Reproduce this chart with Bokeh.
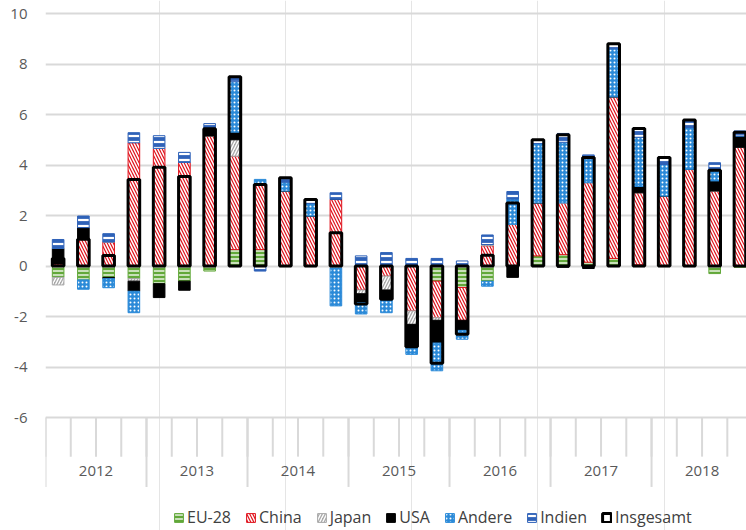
import numpy as np
from bokeh.plotting import figure
from bokeh.models import ColumnDataSource, FixedTicker, Legend, LegendItem, Range1d
from bokeh.embed import file_html
from bokeh.resources import INLINE
from bokeh.core.properties import value

# ---- data (percentage points, quarterly 2012Q1 .. 2018Q4) ----
years = ["2012", "2013", "2014", "2015", "2016", "2017", "2018"]
quarters = ["Q1", "Q2", "Q3", "Q4"]

eu28 = [-0.45, -0.55, -0.45, -0.50, -0.70, -0.60, -0.20, 0.65,
        0.65, 0.00, 0.00, 0.00, 0.00, 0.00, 0.00, -0.60,
        -0.85, -0.60, 0.00, 0.40, 0.45, 0.15, 0.30, 0.05,
        0.00, 0.00, -0.30, -0.05]
china = [0.08, 1.07, 0.95, 4.88, 4.66, 4.10, 5.15, 3.70,
         2.58, 2.97, 1.98, 2.64, -0.95, -0.40, -1.78, -1.45,
         -1.30, 0.80, 1.65, 2.10, 2.05, 3.15, 6.40, 2.85,
         2.77, 3.83, 2.97, 4.70]
japan = [-0.30, 0.00, 0.00, -0.10, 0.00, 0.00, 0.00, 0.65,
         0.00, 0.00, 0.00, -0.08, -0.15, -0.55, -0.53, -0.10,
         0.00, 0.05, 0.00, 0.00, 0.00, 0.00, 0.00, 0.00,
         0.00, 0.00, 0.00, 0.00]
usa = [0.62, 0.45, -0.05, -0.40, -0.55, -0.36, 0.33, 0.30,
       0.00, 0.00, 0.00, 0.00, -0.35, -0.37, -0.90, -0.90,
       -0.40, 0.00, -0.45, 0.00, -0.05, -0.10, 0.00, 0.25,
       0.00, 0.00, 0.40, 0.45]
andere = [0.00, -0.37, -0.36, -0.85, 0.00, 0.00, 0.00, 2.00,
          0.20, 0.35, 0.50, -1.50, -0.45, -0.53, -0.29, -1.10,
          -0.35, -0.20, 1.00, 2.35, 2.40, 0.95, 1.90, 1.95,
          1.25, 1.65, 0.40, 0.00]
indien = [0.35, 0.46, 0.33, 0.40, 0.50, 0.40, 0.16, 0.20,
          -0.20, 0.18, 0.15, 0.26, 0.40, 0.53, 0.30, 0.30,
          0.20, 0.38, 0.30, 0.15, 0.35, 0.15, 0.20, 0.35,
          0.28, 0.30, 0.32, 0.20]
insgesamt = [0.30, 1.06, 0.42, 3.43, 3.91, 3.54, 5.44, 7.50,
             3.23, 3.50, 2.63, 1.32, -1.50, -1.32, -3.20, -3.85,
             -2.70, 0.43, 2.50, 5.00, 5.20, 4.30, 8.80, 5.45,
             4.30, 5.78, 3.79, 5.30]

series_names = ["EU-28", "China", "Japan", "USA", "Andere", "Indien"]
series_values = [eu28, china, japan, usa, andere, indien]

# ---- styles ----
styles = {
    "EU-28":  dict(fill_color="#62a83a", line_color="#62a83a", hatch_pattern="-", hatch_scale=4, hatch_weight=1.3),
    "China":  dict(fill_color="#e0141e", line_color="#e0141e", hatch_pattern="\\", hatch_scale=6, hatch_weight=1.5),
    "Japan":  dict(fill_color="#a9a9a9", line_color="#a9a9a9", hatch_pattern="/", hatch_scale=6, hatch_weight=1.4),
    "USA":    dict(fill_color="#000000", line_color="#000000", hatch_pattern=None, hatch_scale=6, hatch_weight=1),
    "Andere": dict(fill_color="#2b8ad8", line_color="#2b8ad8", hatch_pattern=".", hatch_scale=4, hatch_weight=1.2),
    "Indien": dict(fill_color="#2f62b8", line_color="#2f62b8", hatch_pattern="-", hatch_scale=6, hatch_weight=2.2),
}

n = len(insgesamt)
x = np.arange(1, n + 1)

FONT = "Open Sans"
GRID = "#d9d9d9"

p = figure(width=746, height=530, x_range=Range1d(0.5, 28.26), y_range=Range1d(-10.475, 10.515),
           output_backend="svg", toolbar_location=None, x_axis_location=None,
           min_border_left=45, min_border_right=0, min_border_top=0, min_border_bottom=0)
p.outline_line_color = None
p.background_fill_color = "white"

yticks = list(range(-6, 11, 2))
p.yaxis.ticker = FixedTicker(ticks=yticks)
p.yaxis.major_label_overrides = {t: str(t) for t in yticks}
p.yaxis.axis_line_color = None
p.yaxis.major_tick_line_color = None
p.yaxis.major_tick_out = 0
p.yaxis.major_tick_in = 0
p.yaxis.minor_tick_line_color = None
p.yaxis.major_label_standoff = 18
p.yaxis.major_label_text_font = FONT
p.yaxis.major_label_text_font_size = "15px"
p.yaxis.major_label_text_color = "#595959"
p.ygrid.ticker = FixedTicker(ticks=yticks)
p.ygrid.grid_line_color = GRID
p.ygrid.grid_line_width = 2

# ---- category axis drawn at y = -6 ----
ymin = min(yticks)
bounds = np.arange(n + 1) + 0.5
p.segment(x0=bounds, y0=[ymin] * len(bounds), x1=bounds, y1=[ymin - 1.55] * len(bounds),
          line_color=GRID, line_width=2)
ybounds = bounds[::len(quarters)]
p.segment(x0=ybounds, y0=[ymin] * len(ybounds), x1=ybounds, y1=[ymin - 2.75] * len(ybounds),
          line_color=GRID, line_width=2)
ycent = (ybounds[:-1] + ybounds[1:]) / 2
p.text(x=ycent, y=[ymin - 2.1] * len(ycent), text=years, text_align="center", text_baseline="middle",
       text_font=value(FONT), text_font_size="15px", text_color="#595959")

# ---- stacked bars (positive and negative stacks separately) ----
pos_base = np.zeros(n)
neg_base = np.zeros(n)
renderers = {}
W = 0.46
for name, vals in zip(series_names, series_values):
    v = np.array(vals, dtype=float)
    bottom = np.where(v >= 0, pos_base, neg_base + v)
    top = np.where(v >= 0, pos_base + v, neg_base)
    pos_base = pos_base + np.where(v > 0, v, 0)
    neg_base = neg_base + np.where(v < 0, v, 0)
    src = ColumnDataSource(dict(x=x, top=top, bottom=bottom))
    st = styles[name]
    kw = dict(fill_color=st["fill_color"], line_color=st["line_color"], line_width=1)
    if st["hatch_pattern"]:
        kw.update(hatch_pattern=st["hatch_pattern"], hatch_color="white",
                  hatch_scale=st["hatch_scale"], hatch_weight=st["hatch_weight"])
    renderers[name] = p.vbar(x="x", width=W, top="top", bottom="bottom", source=src, **kw)

tsrc = ColumnDataSource(dict(x=x, top=np.array(insgesamt), bottom=np.zeros(n)))
renderers["Insgesamt"] = p.vbar(x="x", width=W, top="top", bottom="bottom", source=tsrc,
                                fill_color=None, line_color="black", line_width=3)

items = [LegendItem(label=nm, renderers=[renderers[nm]]) for nm in series_names + ["Insgesamt"]]
legend = Legend(items=items, orientation="horizontal", location=(128, 2),
                glyph_width=11, glyph_height=11, label_standoff=3, spacing=14,
                padding=0, margin=0, border_line_color=None, background_fill_alpha=0,
                label_text_font=FONT, label_text_font_size="16px", label_text_color="#404040")
p.add_layout(legend)

open("out.html", "w").write(file_html(p, INLINE))
